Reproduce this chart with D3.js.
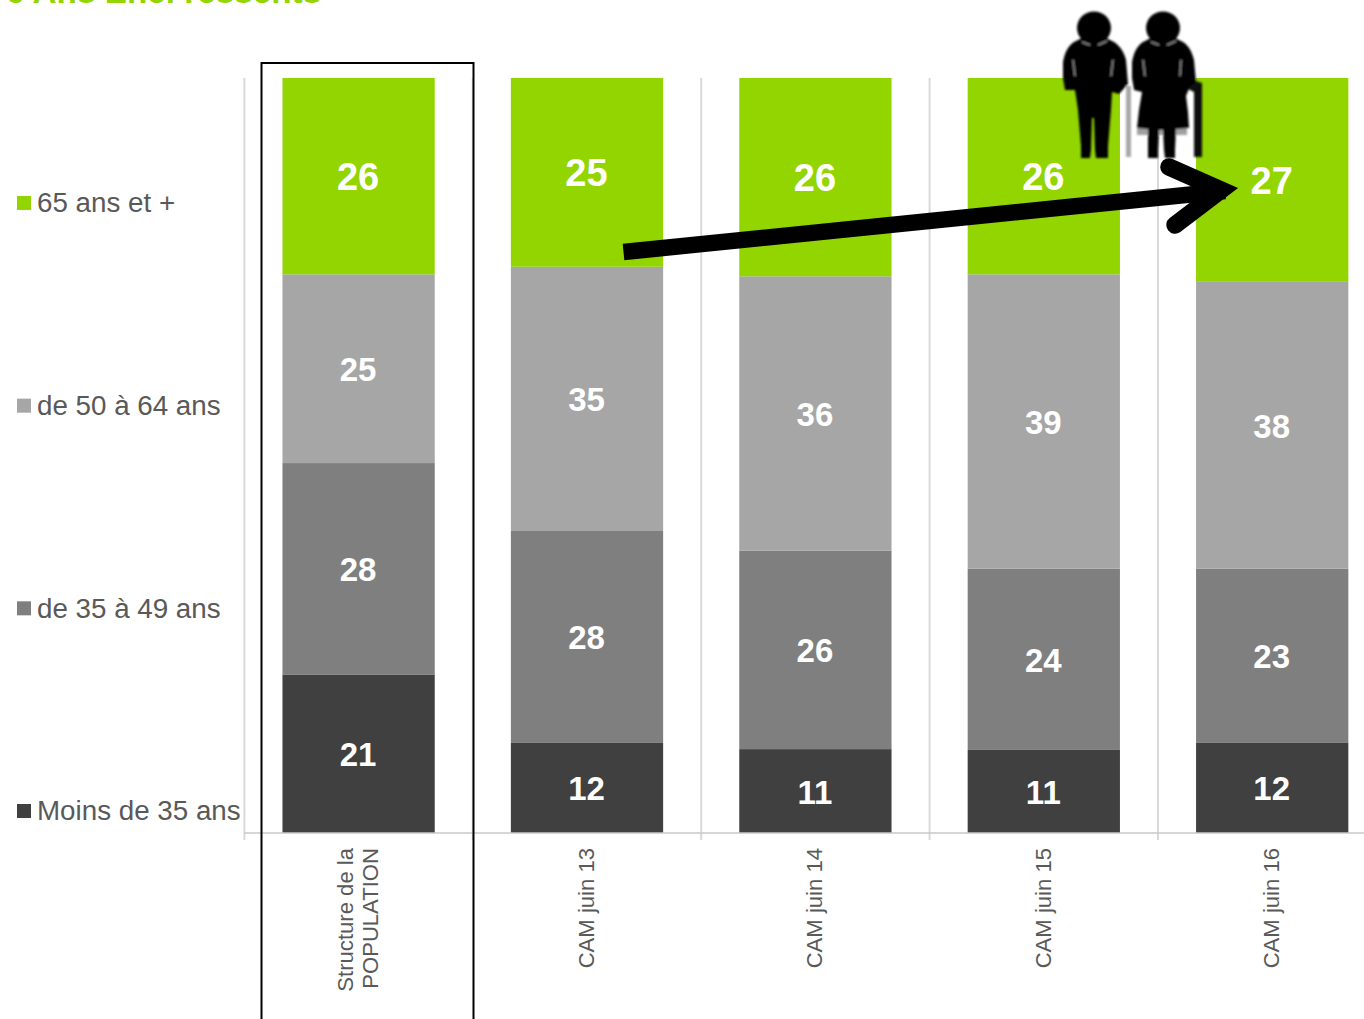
<!DOCTYPE html>
<html lang="fr">
<head>
<meta charset="utf-8">
<script src="https://cdn.jsdelivr.net/npm/d3@7"></script>
<style>
  html, body { margin: 0; padding: 0; background: #fff; overflow: hidden; }
  svg { display: block; font-family: "Liberation Sans", Arial, sans-serif; }
</style>
</head>
<body>
<svg id="chart" width="1364" height="1019"></svg>
<script>
// Age structure of the population and of successive CAM survey waves
const categories = ["Structure de la|POPULATION", "CAM juin 13", "CAM juin 14", "CAM juin 15", "CAM juin 16"];
const ageGroups = ["Moins de 35 ans", "de 35 à 49 ans", "de 50 à 64 ans", "65 ans et +"];
const under35 = [21, 12, 11, 11, 12];
const from35to49 = [28, 28, 26, 24, 23];
const from50to64 = [25, 35, 36, 39, 38];
const over65 = [26, 25, 26, 26, 27];
const groupColors = ["#404040", "#7f7f7f", "#a6a6a6", "#92d500"];
const titleText = "6 Ans Enel ressents";

const svg = d3.select("#chart");
const rows = categories.map((c, i) => ({
  cat: c,
  [ageGroups[0]]: under35[i],
  [ageGroups[1]]: from35to49[i],
  [ageGroups[2]]: from50to64[i],
  [ageGroups[3]]: over65[i]
}));

const x = d3.scaleBand().domain(categories).range([244.4, 1386.4]).paddingInner(1 / 3).paddingOuter(1 / 6);
const y = d3.scaleLinear().domain([0, 1]).range([833, 78]);
const stack = d3.stack().keys(ageGroups).offset(d3.stackOffsetExpand);
const series = stack(rows);

// Truncated heading at the top edge
svg.append("text").attr("x", 6).attr("y", 3)
  .attr("font-size", 33.3).attr("font-weight", "bold").attr("fill", "#92d500")
  .text(titleText);

// Vertical separators between columns
const step = x.step();
const separators = d3.range(categories.length + 1).map(i => x(categories[0]) - x.bandwidth() / 4 + i * step);
svg.append("g").selectAll("line").data(separators.filter(v => v < 1364)).join("line")
  .attr("x1", d => d).attr("x2", d => d)
  .attr("y1", y(1)).attr("y2", 840)
  .attr("stroke", "#d9d9d9").attr("stroke-width", 2);

// Stacked columns
svg.append("g").selectAll("g").data(series).join("g")
  .attr("fill", (d, i) => groupColors[i])
  .selectAll("rect").data(d => d).join("rect")
  .attr("x", d => x(d.data.cat))
  .attr("width", x.bandwidth())
  .attr("y", d => y(d[1]))
  .attr("height", d => y(d[0]) - y(d[1]));

// Baseline
svg.append("line").attr("x1", 244).attr("x2", 1364).attr("y1", 833).attr("y2", 833)
  .attr("stroke", "#c9c9c9").attr("stroke-width", 1.5);

// Value labels centred in each segment; the top group is set larger
svg.append("g").selectAll("g").data(series).join("g")
  .each(function (s, i) {
    d3.select(this).selectAll("text").data(s).join("text")
      .attr("x", d => x(d.data.cat) + x.bandwidth() / 2 - 0.5)
      .attr("y", d => (y(d[0]) + y(d[1])) / 2 + 1)
      .attr("text-anchor", "middle")
      .attr("dominant-baseline", "central")
      .attr("font-weight", "bold")
      .attr("font-size", i === 3 ? 38 : 33)
      .attr("fill", "#fff")
      .text(d => d.data[s.key]);
  });

// Category axis with rotated labels
const axis = svg.append("g").attr("transform", "translate(0,833)")
  .call(d3.axisBottom(x).tickSize(0).tickFormat(""));
axis.select(".domain").remove();
axis.selectAll(".tick text").remove();
axis.selectAll(".tick").each(function (c) {
  const parts = c.split("|");
  const t = d3.select(this).append("text")
    .attr("transform", "translate(-0.7,15) rotate(-90)")
    .attr("text-anchor", "end")
    .attr("font-size", 22.1)
    .attr("fill", "#595959");
  parts.forEach((p, k) => {
    t.append("tspan")
      .attr("x", 0)
      .attr("y", (k - (parts.length - 1) / 2) * 25)
      .attr("dy", "0.35em")
      .text(p);
  });
});

// Legend column, top group first
const legendY = d3.scalePoint().domain(ageGroups.slice().reverse()).range([203, 811]);
const legend = svg.append("g").selectAll("g").data(ageGroups).join("g")
  .attr("transform", d => `translate(17,${legendY(d)})`);
legend.append("rect").attr("x", 0).attr("y", -7).attr("width", 14).attr("height", 14)
  .attr("fill", (d, i) => groupColors[i]);
legend.append("text").attr("x", 20).attr("y", -0.5).attr("dy", "0.35em")
  .attr("font-size", 27.75).attr("fill", "#595959").text(d => d);

// Frame around the reference column
svg.append("path")
  .attr("d", "M261.5,1019.5 V63 H473.5 V1019.5")
  .attr("fill", "none").attr("stroke", "#000").attr("stroke-width", 2);

// Pictogram of an elderly couple
const defs = svg.append("defs");
defs.append("filter").attr("id", "soft").append("feGaussianBlur").attr("stdDeviation", 0.8);
const people = svg.append("g").attr("filter", "url(#soft)");

// Walking sticks
people.append("rect").attr("x", 1126).attr("y", 86).attr("width", 5).attr("height", 71).attr("fill", "#a8a8a8");
people.append("path").attr("d", "M1186,88 L1193,80 L1202,83 V157 H1194 V92 Z").attr("fill", "#111");

// Shadow under the skirt
people.append("rect").attr("x", 1137).attr("y", 126).attr("width", 50).attr("height", 9).attr("fill", "#a0a0a0");

// Man
people.append("ellipse").attr("cx", 1094).attr("cy", 28).attr("rx", 17).attr("ry", 16.5).attr("fill", "#000");
people.append("path").attr("fill", "#000").attr("d",
  "M1082,38 L1106,38 L1114,42 C1120,46 1124,52 1126,60 L1128,84 L1119,94 L1112,92 L1111,110 L1108,146 L1108,158 " +
  "L1096,158 L1095,150 L1094,118 L1092,118 L1091,150 L1090,158 L1081,158 L1081,146 L1078,110 L1075,90 L1065,90 " +
  "L1063,78 L1063,62 C1065,52 1068,46 1074,42 Z");
// Woman
people.append("ellipse").attr("cx", 1163).attr("cy", 28).attr("rx", 17).attr("ry", 16.5).attr("fill", "#000");
people.append("path").attr("fill", "#000").attr("d",
  "M1151,38 L1175,38 L1183,42 C1189,46 1192,52 1194,60 L1196,82 L1190,86 L1186,96 L1188,112 L1189,128 L1176,129 " +
  "L1175,150 L1175,158 L1165,158 L1164,150 L1163,130 L1159,130 L1158,150 L1158,158 L1148,158 L1148,150 L1148,129 L1137,128 " +
  "L1139,110 L1142,92 L1134,90 L1132,78 L1132,62 C1134,52 1137,46 1143,42 Z");
// Collar and sleeve highlights
people.append("g").attr("stroke", "#8c8c8c").attr("stroke-width", 1.5).attr("fill", "none")
  .selectAll("path").data([
    "M1082,42 L1090,45", "M1098,45 L1107,41", "M1151,42 L1159,45", "M1167,45 L1176,41",
    "M1073,60 L1075,76", "M1113,60 L1111,76", "M1143,60 L1145,76", "M1181,60 L1180,76"
  ]).join("path").attr("d", d => d);

// Trend arrow
svg.append("line").attr("x1", 623.5).attr("y1", 252).attr("x2", 1225).attr("y2", 191)
  .attr("stroke", "#000").attr("stroke-width", 16.5);
svg.append("path").attr("d", "M1169,167 L1221,190 L1175,225")
  .attr("fill", "none").attr("stroke", "#000").attr("stroke-width", 17.5)
  .attr("stroke-linecap", "round").attr("stroke-linejoin", "miter").attr("stroke-miterlimit", 6);
</script>
</body>
</html>
